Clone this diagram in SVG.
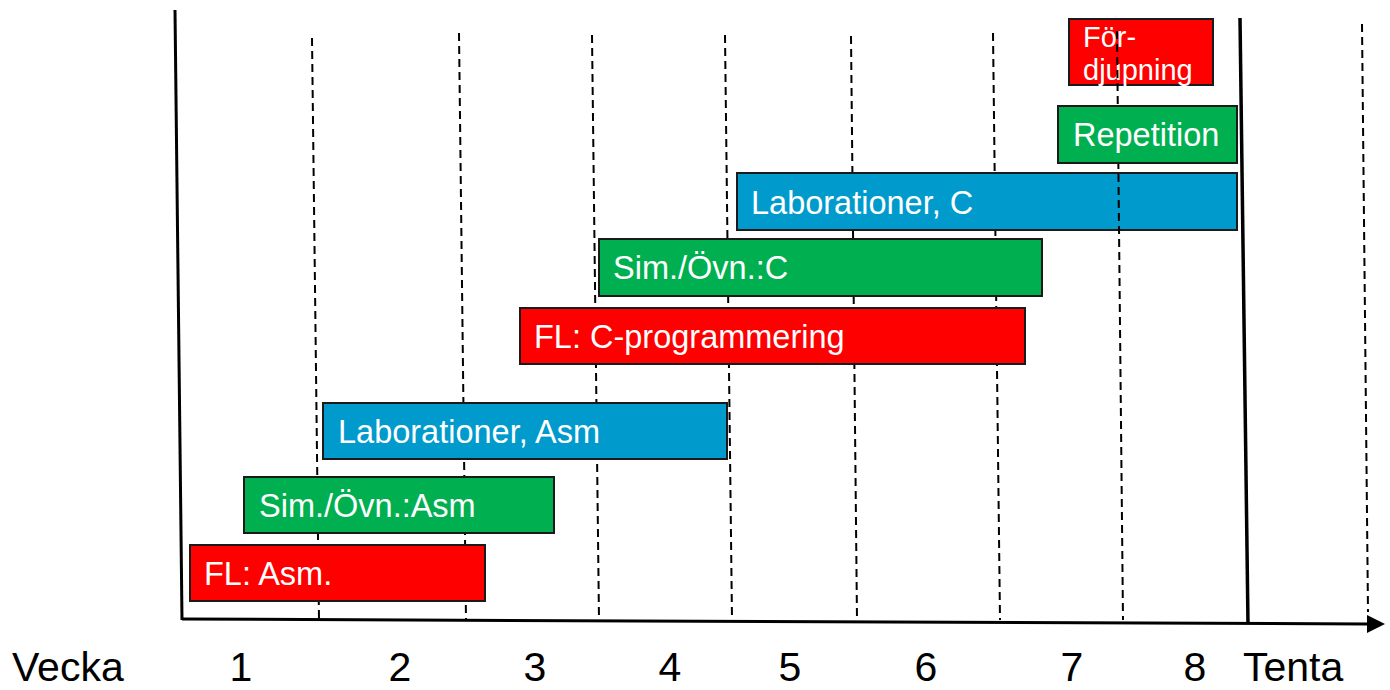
<svg xmlns="http://www.w3.org/2000/svg" width="1390" height="690" viewBox="0 0 1390 690">
<style>
.grid{stroke:#000;stroke-width:2;stroke-dasharray:8 5;fill:none}
.axis{stroke:#000;stroke-width:3;fill:none}
.box{stroke:#1a1a1a;stroke-width:2}
.red{fill:#FF0000}
.green{fill:#00B050}
.blue{fill:#009ACD}
.lbl{font-family:"Liberation Sans",Arial,sans-serif;font-size:32.5px;fill:#fff}
.small{font-size:29px}
.ax{font-family:"Liberation Sans",Arial,sans-serif;font-size:41px;fill:#000;text-anchor:middle}
</style>
<defs>
<marker id="arr" viewBox="0 0 10 10" refX="0" refY="5" markerWidth="18" markerHeight="20" markerUnits="userSpaceOnUse" orient="auto">
<path d="M0,0 L10,5 L0,10 z" fill="#000"/>
</marker>
</defs>
<g id="gridlines">
<line class="grid" x1="312" y1="38" x2="319" y2="620"/>
<line class="grid" x1="459" y1="33" x2="466" y2="620"/>
<line class="grid" x1="592" y1="35" x2="599" y2="620"/>
<line class="grid" x1="725" y1="35" x2="732" y2="620"/>
<line class="grid" x1="851" y1="36" x2="857" y2="620"/>
<line class="grid" x1="993" y1="33" x2="1000" y2="620"/>
<line class="grid" x1="1362" y1="24" x2="1368" y2="612"/>
</g>
<g id="axes">
<line class="axis" x1="175" y1="10" x2="182" y2="620"/>
<line class="axis" x1="182" y1="619" x2="1367" y2="624" marker-end="url(#arr)"/>
<line class="axis" x1="1240" y1="18" x2="1248" y2="624" style="stroke-width:3.5"/>
</g>
<g id="fl-asm"><rect class="box red" x="190" y="545" width="295" height="56"/><text class="lbl" x="204" y="585">FL: Asm.</text></g>
<g id="sim-asm"><rect class="box green" x="244" y="477" width="310" height="56"/><text class="lbl" x="259" y="517">Sim./Övn.:Asm</text></g>
<g id="lab-asm"><rect class="box blue" x="323" y="403" width="404" height="56"/><text class="lbl" x="338" y="443">Laborationer, Asm</text></g>
<g id="fl-c"><rect class="box red" x="520" y="308" width="505" height="56"/><text class="lbl" x="534" y="348">FL: C-programmering</text></g>
<g id="sim-c"><rect class="box green" x="599" y="239" width="443" height="57"/><text class="lbl" x="613" y="279">Sim./Övn.:C</text></g>
<g id="lab-c"><rect class="box blue" x="737" y="173" width="500" height="57"/><text class="lbl" x="751" y="214">Laborationer, C</text></g>
<g id="fordjupning"><rect class="box red" x="1069" y="19" width="144" height="66"/><text class="lbl small" x="1083" y="47">För-</text><text class="lbl small" x="1083" y="80">djupning</text></g>
<g id="gridline-7"><line class="grid" x1="1117" y1="31" x2="1123" y2="620"/></g>
<g id="repetition"><rect class="box green" x="1058" y="106" width="179" height="57"/><text class="lbl" x="1073" y="146">Repetition</text></g>
<g id="axis-labels">
<text class="ax" x="12" y="681" style="text-anchor:start">Vecka</text>
<text class="ax" x="241" y="681">1</text>
<text class="ax" x="400" y="681">2</text>
<text class="ax" x="535" y="681">3</text>
<text class="ax" x="670" y="681">4</text>
<text class="ax" x="790" y="681">5</text>
<text class="ax" x="926" y="681">6</text>
<text class="ax" x="1072" y="681">7</text>
<text class="ax" x="1195" y="681">8</text>
<text class="ax" x="1243" y="681" style="text-anchor:start">Tenta</text>
</g>
</svg>
